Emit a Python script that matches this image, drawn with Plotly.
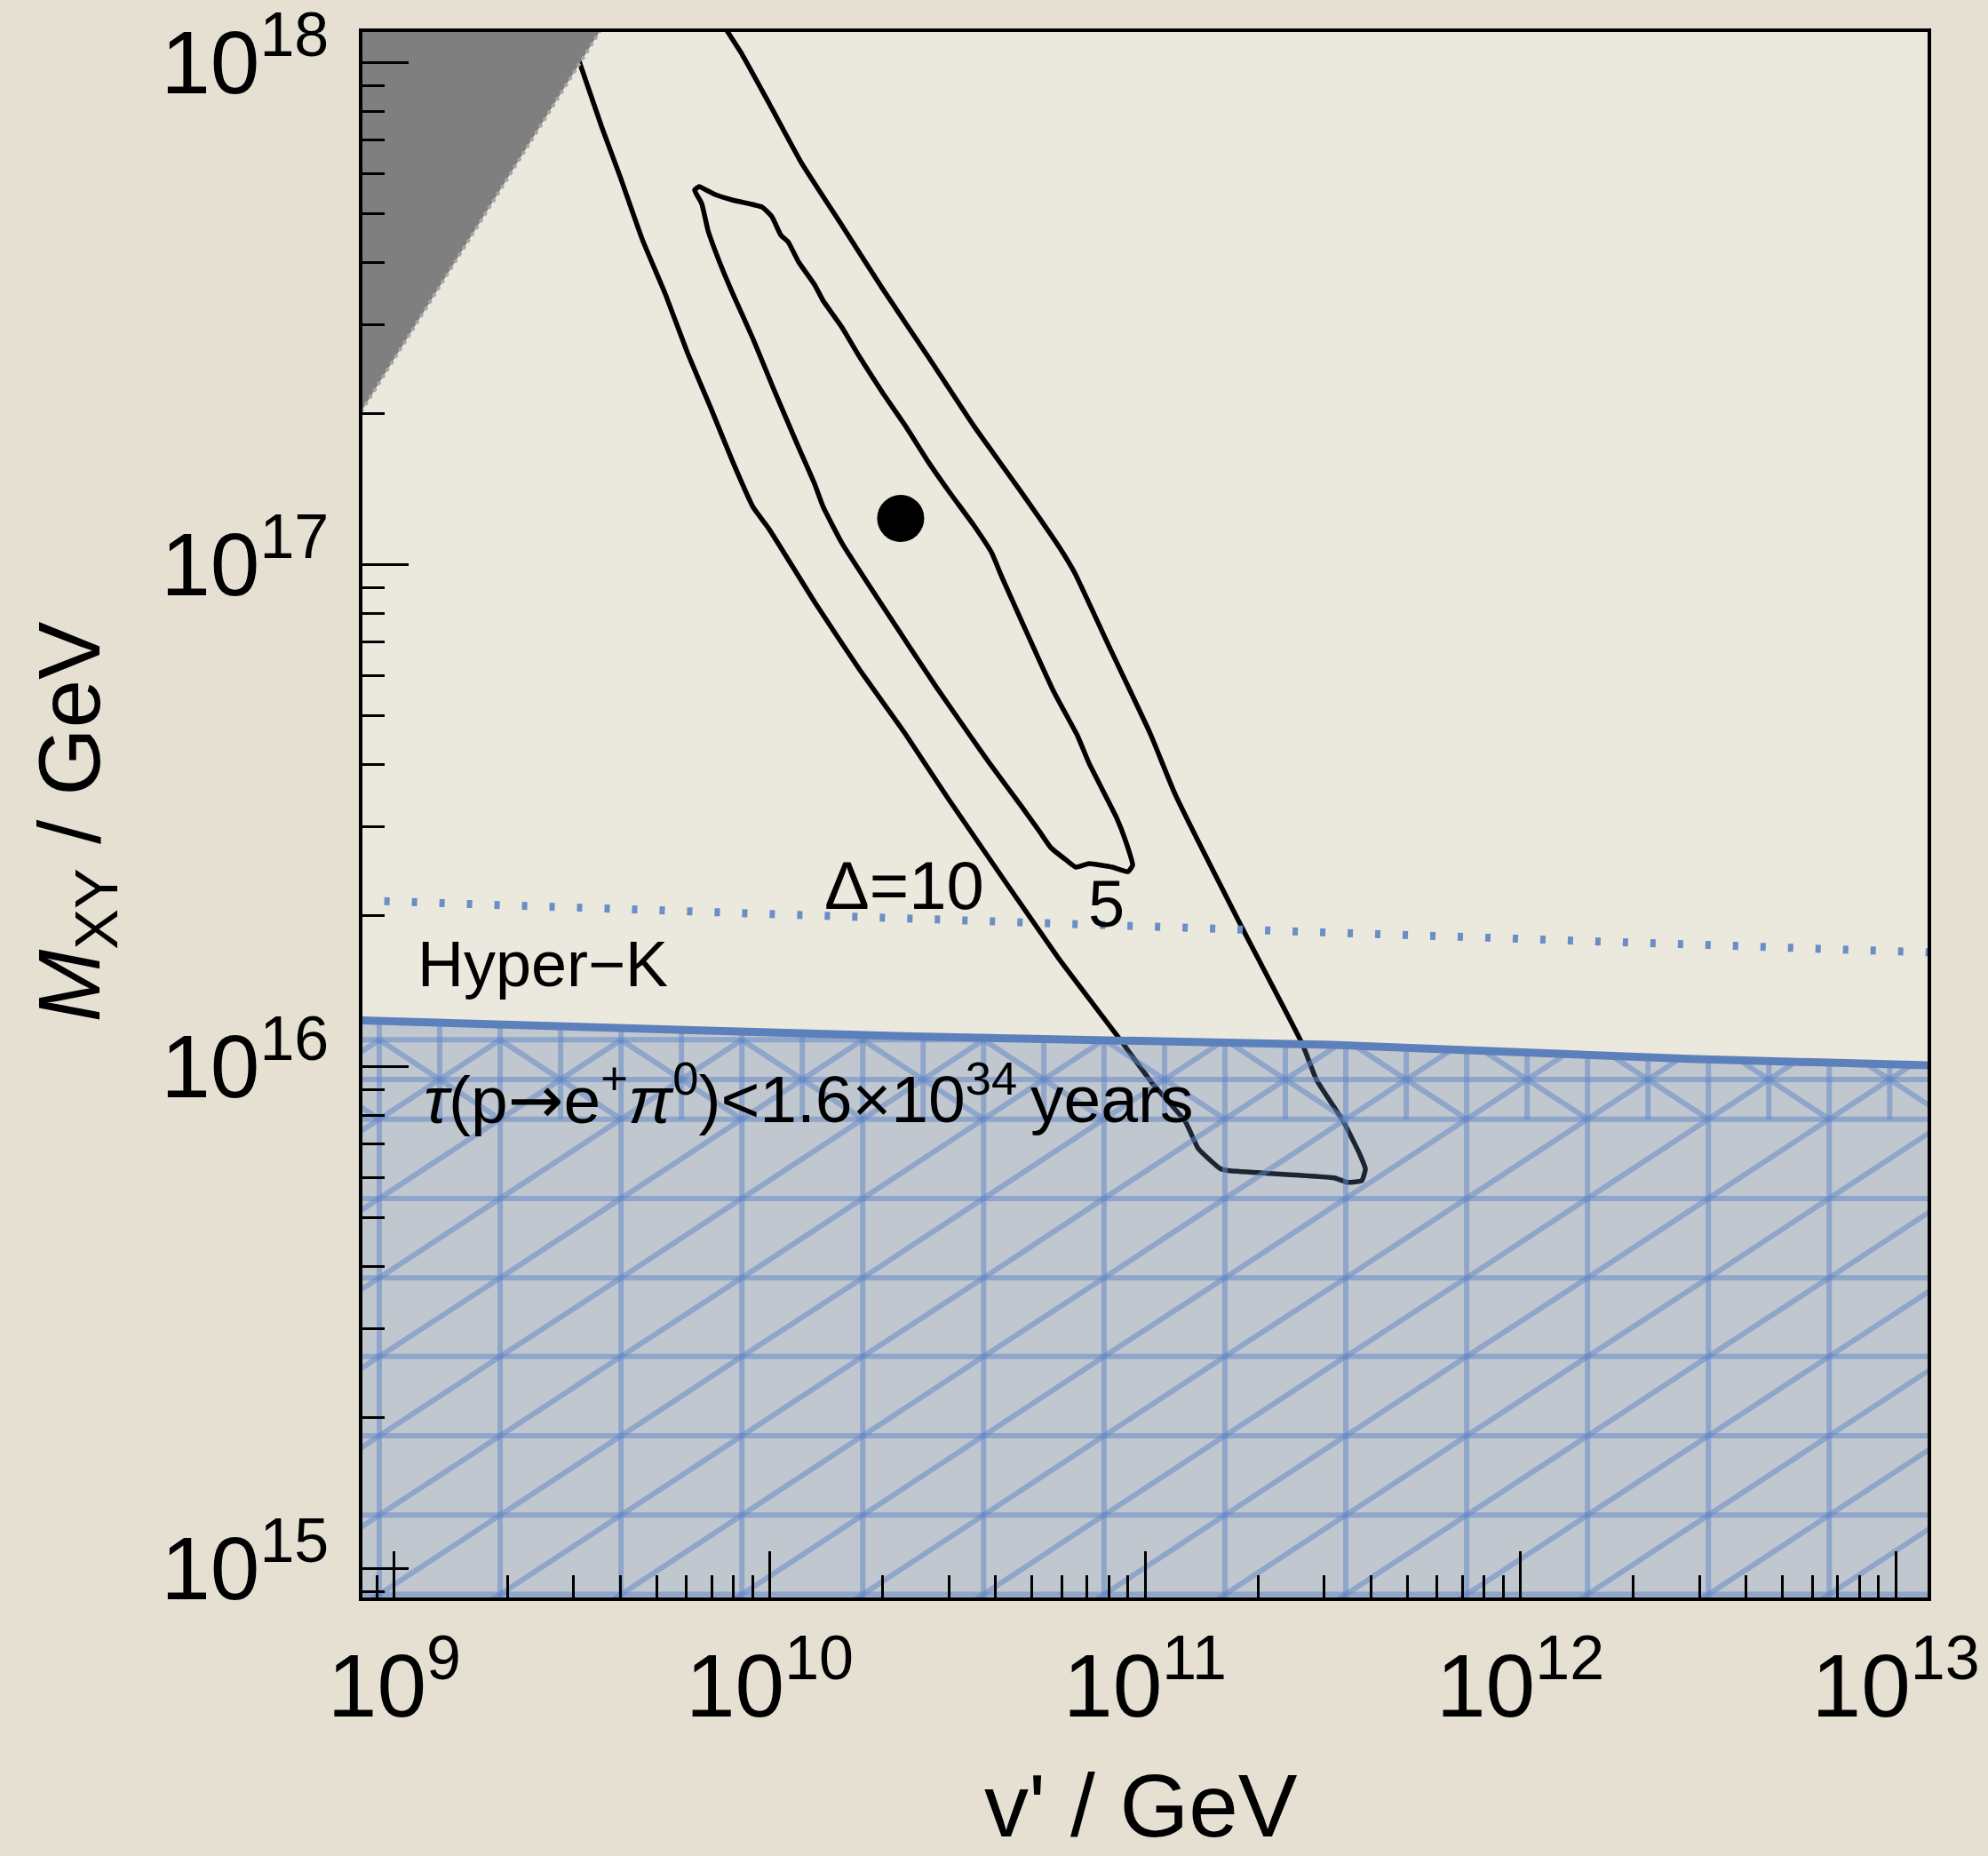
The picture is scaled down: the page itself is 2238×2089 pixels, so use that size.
import numpy as np
import plotly.graph_objects as go

# ---------------- data (log10 of GeV) ----------------
x_range_log = [8.915, 13.085]
y_range_log = [14.942, 18.061]

x_tick_exp = [9, 10, 11, 12, 13]
y_tick_exp = [15, 16, 17, 18]

# excluded (gray) region boundary
excl_log_v = [8.90, 9.579]
excl_log_m = [17.291, 18.10]

# Delta = 10 contour (open at the top / gray region)
outer_log_v = [9.864, 9.890, 9.926, 9.999, 10.084, 10.193, 10.302, 10.423, 10.543, 10.664,
               10.773, 10.813, 10.906, 11.014, 11.081, 11.263, 11.419, 11.457, 11.528, 11.571,
               11.587, 11.578, 11.540, 11.504, 11.227, 11.201, 11.142, 11.107, 11.022, 10.924,
               10.768, 10.477, 10.361, 10.240, 10.120, 9.999, 9.956, 9.902, 9.843, 9.781,
               9.722, 9.661, 9.601, 9.552, 9.490]
outer_log_m = [18.09, 18.059, 18.017, 17.918, 17.801, 17.675, 17.548, 17.413, 17.277, 17.151,
               17.033, 16.983, 16.834, 16.663, 16.541, 16.270, 16.045, 15.973, 15.891, 15.827,
               15.796, 15.773, 15.769, 15.778, 15.792, 15.796, 15.836, 15.891, 15.964, 16.063,
               16.217, 16.532, 16.663, 16.790, 16.925, 17.070, 17.114, 17.204, 17.312, 17.422,
               17.539, 17.647, 17.774, 17.873, 18.008]

# Delta = 5 contour (closed)
inner_log_v = [9.812, 9.831, 9.855, 9.902, 9.980, 10.006, 10.030, 10.049, 10.077, 10.120,
               10.143, 10.193, 10.240, 10.302, 10.361, 10.423, 10.482, 10.543, 10.591, 10.617,
               10.756, 10.820, 10.851, 10.924, 10.948, 10.967, 10.955, 10.913, 10.851, 10.816,
               10.792, 10.749, 10.719, 10.671, 10.586, 10.534, 10.442, 10.302, 10.193, 10.143,
               10.120, 10.072, 10.011, 9.956, 9.902, 9.871, 9.836, 9.819, 9.800, 9.812]
inner_log_m = [17.753, 17.746, 17.737, 17.726, 17.712, 17.693, 17.656, 17.643, 17.603, 17.557,
               17.525, 17.472, 17.413, 17.341, 17.277, 17.204, 17.141, 17.079, 17.024, 16.978,
               16.748, 16.659, 16.604, 16.496, 16.450, 16.401, 16.388, 16.397, 16.404, 16.397,
               16.410, 16.436, 16.468, 16.518, 16.604, 16.659, 16.758, 16.916, 17.042, 17.114,
               17.160, 17.242, 17.349, 17.449, 17.539, 17.594, 17.665, 17.719, 17.746, 17.753]

# best fit point
best_log_v = [10.349]
best_log_m = [17.092]

# Super-K bound  tau < 1.6e34 years
bound_log_v = [8.90, 10.316, 11.500, 12.446, 13.10]
bound_log_m = [16.092, 16.061, 16.043, 16.015, 16.002]

# Hyper-K sensitivity
hk_log_v = [8.90, 13.10]
hk_log_m = [16.331, 16.227]

# mesh of the shaded region (as rendered in the original)
mesh_cols_log = [8.638, 8.960, 9.282, 9.604, 9.926, 10.248, 10.570, 10.891, 11.213,
                 11.535, 11.857, 12.179, 12.501, 12.823, 13.145]
mesh_rows_log = [14.790, 14.948, 15.106, 15.264, 15.422, 15.579, 15.737, 15.895]
mesh_fine_rows_log = [15.974, 16.053]

# ---------------- helpers ----------------
def p(a):
    return [10 ** v for v in a]


def bound_at(x):
    return np.interp(x, bound_log_v, bound_log_m)


def clip_seg(x0, y0, x1, y1):
    t = np.linspace(0, 1, 800)
    xs = x0 + (x1 - x0) * t
    ys = y0 + (y1 - y0) * t
    ok = ys <= bound_at(xs) - 0.004
    if not ok.any():
        return None
    idx = np.where(ok)[0]
    return xs[idx[0]], ys[idx[0]], xs[idx[-1]], ys[idx[-1]]


segs = []
top = max(bound_log_m) + 0.1
for c in mesh_cols_log:
    segs.append((c, 14.7, c, top))
for a, b in zip(mesh_cols_log[:-1], mesh_cols_log[1:]):
    segs.append(((a + b) / 2, mesh_rows_log[-1], (a + b) / 2, top))
for r in mesh_rows_log + mesh_fine_rows_log:
    segs.append((8.6, r, 13.2, r))
for a, b in zip(mesh_cols_log[:-1], mesh_cols_log[1:]):
    for r0, r1 in zip(mesh_rows_log[:-1], mesh_rows_log[1:]):
        segs.append((a, r0, b, r1))
    segs.append((a, mesh_rows_log[-1], b, mesh_fine_rows_log[-1]))
    segs.append((a, mesh_fine_rows_log[-1], b, mesh_rows_log[-1]))

mx, my = [], []
for s in segs:
    cs = clip_seg(*s)
    if cs is None:
        continue
    mx += [10 ** cs[0], 10 ** cs[2], None]
    my += [10 ** cs[1], 10 ** cs[3], None]

FONT = "Liberation Sans, Arial, Helvetica, sans-serif"

fig = go.Figure()

fig.add_trace(go.Scatter(x=p(outer_log_v), y=p(outer_log_m), mode="lines",
                         line=dict(color="black", width=5.5, shape="spline", smoothing=0.4),
                         hoverinfo="skip"))
fig.add_trace(go.Scatter(x=p(inner_log_v), y=p(inner_log_m), mode="lines",
                         line=dict(color="black", width=5.5, shape="spline", smoothing=0.4),
                         hoverinfo="skip"))
fig.add_trace(go.Scatter(x=p(best_log_v), y=p(best_log_m), mode="markers",
                         marker=dict(color="black", size=53, line=dict(width=0)),
                         hoverinfo="skip"))

gx = p(excl_log_v) + [10 ** excl_log_v[0]]
gy = p(excl_log_m) + [10 ** excl_log_m[1]]
fig.add_trace(go.Scatter(x=gx, y=gy, mode="lines", fill="toself",
                         fillcolor="#7f7f7f", line=dict(width=0, color="#7f7f7f"),
                         hoverinfo="skip"))
fig.add_trace(go.Scatter(x=p(excl_log_v), y=p(excl_log_m), mode="lines",
                         line=dict(color="#a5a5a5", width=4, dash="4px,5px"),
                         hoverinfo="skip"))

bx = p(bound_log_v) + [10 ** bound_log_v[-1], 10 ** bound_log_v[0]]
by = p(bound_log_m) + [10 ** 14.7, 10 ** 14.7]
fig.add_trace(go.Scatter(x=bx, y=by, mode="lines", fill="toself",
                         fillcolor="rgba(93,123,170,0.30)", line=dict(width=0),
                         hoverinfo="skip"))
fig.add_trace(go.Scatter(x=mx, y=my, mode="lines",
                         line=dict(color="rgba(98,134,200,0.52)", width=6),
                         hoverinfo="skip"))
fig.add_trace(go.Scatter(x=p(bound_log_v), y=p(bound_log_m), mode="lines",
                         line=dict(color="#5b80bb", width=9), hoverinfo="skip"))
fig.add_trace(go.Scatter(x=p(hk_log_v), y=p(hk_log_m), mode="lines",
                         line=dict(color="#6b8ec7", width=9, dash="6px,25px"),
                         hoverinfo="skip"))

ARROW = "<span style='font-family:DejaVu Sans'>→</span>"
annotations = [
    dict(x=10.359, y=16.360, xref="x", yref="y", text="Δ=10", showarrow=False,
         font=dict(size=76, color="black", family=FONT), xanchor="center", yanchor="middle"),
    dict(x=10.898, y=16.323, xref="x", yref="y", text="5", showarrow=False,
         font=dict(size=74, color="black", family=FONT), xanchor="center", yanchor="middle"),
    dict(x=9.057, y=16.204, xref="x", yref="y", text="Hyper−K", showarrow=False,
         font=dict(size=72, color="black", family=FONT), xanchor="left", yanchor="middle"),
    dict(x=9.074, y=15.942, xref="x", yref="y",
         text="<i>τ</i>(p" + ARROW + "e<sup>+</sup><i>π</i><sup>0</sup>)&lt;1.6×10<sup>34</sup>\u2009years",
         showarrow=False, font=dict(size=75, color="black", family=FONT),
         xanchor="left", yanchor="middle"),
    dict(x=-0.183, y=0.4955, xref="paper", yref="paper",
         text="<i>M</i><sub>XY</sub> / GeV", showarrow=False, textangle=-90,
         font=dict(size=98, color="black", family=FONT), xanchor="center", yanchor="middle"),
    dict(x=0.4977, y=-0.133, xref="paper", yref="paper", text="v' / GeV", showarrow=False,
         font=dict(size=100, color="black", family=FONT), xanchor="center", yanchor="middle"),
]


def minor_vals(lo, hi):
    vals = []
    for d in range(lo, hi):
        for m in range(2, 10):
            vals.append(m * 10.0 ** d)
    return vals


def tick_text(e):
    return "10<sup>%d</sup>" % e


axis_common = dict(
    type="log", tickmode="array", tickangle=0, automargin=False,
    ticks="inside", ticklen=52, tickwidth=3, tickcolor="black",
    showline=True, linecolor="black", linewidth=3.5, mirror=True,
    showgrid=False, zeroline=False,
    tickfont=dict(size=100, color="black", family=FONT),
)

fig.update_layout(
    width=2238, height=2089,
    margin=dict(l=408, r=68, t=36, b=291),
    paper_bgcolor="#e5e0d2",
    plot_bgcolor="#ebe8de",
    showlegend=False,
    annotations=annotations,
    xaxis=dict(range=x_range_log, ticklabelstandoff=10,
               tickvals=[10.0 ** e for e in x_tick_exp],
               ticktext=[tick_text(e) for e in x_tick_exp],
               minor=dict(tickmode="array", tickvals=minor_vals(8, 13), ticks="inside",
                          ticklen=25, tickwidth=3, tickcolor="black"),
               **axis_common),
    yaxis=dict(range=y_range_log, ticklabelstandoff=14,
               tickvals=[10.0 ** e for e in y_tick_exp],
               ticktext=[tick_text(e) for e in y_tick_exp],
               minor=dict(tickmode="array", tickvals=minor_vals(14, 18), ticks="inside",
                          ticklen=25, tickwidth=3, tickcolor="black"),
               **axis_common),
)

fig.write_html("out.html")
